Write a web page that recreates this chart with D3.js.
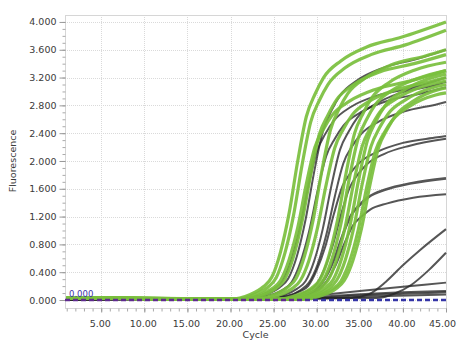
<!DOCTYPE html>
<html>
<head>
<meta charset="utf-8">
<script src="https://cdn.jsdelivr.net/npm/d3@7"></script>
<style>
body { margin:0; background:#fff; }
svg { display:block; }
</style>
</head>
<body>
<div id="chart"></div>
<script>
// tick labels
var cycleTicks = [5, 10, 15, 20, 25, 30, 35, 40, 45];
var fluorTicks = [0, 0.4, 0.8, 1.2, 1.6, 2.0, 2.4, 2.8, 3.2, 3.6, 4.0];
var threshold = 0.0;

// amplification curves, [cycle, fluorescence]
var greenCurves = [
  [[1,0.03],[19.8,0.01],[22.3,0.08],[23.8,0.19],[24.8,0.33],[25.8,0.69],[26.8,1.25],[27.8,2.0],[28.8,2.64],[29.8,2.96],[30.8,3.2],[32.8,3.44],[35.8,3.64],[39.8,3.78],[45,4.0]],
  [[1,0.03],[20.3,0.01],[22.8,0.08],[24.3,0.18],[25.3,0.32],[26.3,0.67],[27.3,1.21],[28.3,1.94],[29.3,2.56],[30.3,2.87],[31.3,3.1],[33.3,3.34],[36.3,3.53],[40.3,3.67],[45,3.88]],
  [[1,0.03],[20.8,0.01],[23.3,0.07],[24.8,0.16],[25.8,0.28],[26.8,0.58],[27.8,1.04],[28.8,1.67],[29.8,2.2],[30.8,2.46],[31.8,2.66],[33.8,2.86],[36.8,3.03],[40.8,3.15],[45,3.30]],
  [[1,0.03],[21.3,0.01],[23.8,0.07],[25.3,0.17],[26.3,0.3],[27.3,0.62],[28.3,1.13],[29.3,1.8],[30.3,2.38],[31.3,2.66],[32.3,2.88],[34.3,3.1],[37.3,3.28],[41.3,3.4],[45,3.53]],
  [[1,0.03],[22.6,0.01],[25.1,0.08],[26.6,0.18],[27.6,0.31],[28.6,0.64],[29.6,1.16],[30.6,1.86],[31.6,2.45],[32.6,2.75],[33.6,2.97],[35.6,3.19],[38.6,3.38],[42.6,3.51],[45,3.60]],
  [[1,0.03],[23.1,0.01],[25.6,0.07],[27.1,0.16],[28.1,0.28],[29.1,0.57],[30.1,1.04],[31.1,1.66],[32.1,2.19],[33.1,2.46],[34.1,2.66],[36.1,2.86],[39.1,3.02],[43.1,3.14],[45,3.20]],
  [[1,0.03],[25.4,0.01],[27.9,0.08],[29.4,0.17],[30.4,0.3],[31.4,0.63],[32.4,1.14],[33.4,1.82],[34.4,2.4],[35.4,2.69],[36.4,2.91],[38.4,3.13],[41.4,3.31],[45,3.42]],
  [[1,0.03],[25.8,0.01],[28.3,0.07],[29.8,0.17],[30.8,0.29],[31.8,0.6],[32.8,1.09],[33.8,1.76],[34.8,2.32],[35.8,2.6],[36.8,2.81],[38.8,3.02],[41.8,3.19],[45,3.30]],
  [[1,0.03],[26.3,0.01],[28.8,0.07],[30.3,0.16],[31.3,0.28],[32.3,0.58],[33.3,1.05],[34.3,1.69],[35.3,2.22],[36.3,2.49],[37.3,2.7],[39.3,2.9],[42.3,3.07],[45,3.15]],
  [[1,0.03],[26.9,0.01],[29.4,0.07],[30.9,0.17],[31.9,0.29],[32.9,0.6],[33.9,1.09],[34.9,1.75],[35.9,2.3],[36.9,2.58],[37.9,2.79],[39.9,3.0],[42.9,3.18],[45,3.25]],
  [[1,0.03],[27.3,0.01],[29.8,0.07],[31.3,0.16],[32.3,0.28],[33.3,0.57],[34.3,1.04],[35.3,1.68],[36.3,2.21],[37.3,2.48],[38.3,2.68],[40.3,2.88],[43.3,3.05],[45,3.10]],
  [[1,0.03],[27.8,0.01],[30.3,0.07],[31.8,0.16],[32.8,0.27],[33.8,0.55],[34.8,1.0],[35.8,1.62],[36.8,2.14],[37.8,2.4],[38.8,2.59],[40.8,2.79],[43.8,2.95],[45,2.98]],
  [[1,0.03],[28.2,0.01],[30.7,0.07],[32.2,0.16],[33.2,0.28],[34.2,0.57],[35.2,1.03],[36.2,1.67],[37.2,2.2],[38.2,2.46],[39.2,2.66],[41.2,2.86],[44.2,3.03],[45,3.05]]
];

var darkCurves = [
  [[1,0.01],[21,0.02],[23.5,0.07],[25,0.16],[26,0.27],[27,0.56],[28,1.01],[29,1.62],[30,2.13],[31,2.39],[32,2.58],[34,2.78],[37,2.94],[41,3.05],[45,3.20]],
  [[1,0.01],[21.7,0.02],[24.2,0.08],[25.7,0.18],[26.7,0.31],[27.7,0.63],[28.7,1.15],[29.7,1.84],[30.7,2.42],[31.7,2.72],[32.7,2.94],[34.7,3.16],[37.7,3.34],[41.7,3.47],[45,3.60]],
  [[1,0.01],[22.1,0.02],[24.6,0.07],[26.1,0.15],[27.1,0.26],[28.1,0.54],[29.1,0.98],[30.1,1.57],[31.1,2.07],[32.1,2.32],[33.1,2.51],[35.1,2.7],[38.1,2.86],[42.1,2.97],[45,3.06]],
  [[1,0.01],[23.7,0.02],[26.2,0.07],[27.7,0.16],[28.7,0.27],[29.7,0.56],[30.7,1.02],[31.7,1.64],[32.7,2.16],[33.7,2.42],[34.7,2.62],[36.7,2.81],[39.7,2.98],[43.7,3.09],[45,3.14]],
  [[1,0.01],[24.1,0.02],[26.6,0.06],[28.1,0.14],[29.1,0.25],[30.1,0.51],[31.1,0.93],[32.1,1.49],[33.1,1.97],[34.1,2.21],[35.1,2.38],[37.1,2.56],[40.1,2.71],[44.1,2.82],[45,2.85]],
  [[1,0.01],[24,0.02],[26.5,0.05],[28,0.12],[29,0.2],[30,0.43],[31,0.77],[32,1.24],[33,1.64],[34,1.84],[35,1.98],[37,2.13],[40,2.26],[44,2.34],[45,2.36]],
  [[1,0.01],[24.8,0.02],[27.3,0.05],[28.8,0.12],[29.8,0.2],[30.8,0.42],[31.8,0.76],[32.8,1.22],[33.8,1.61],[34.8,1.81],[35.8,1.95],[37.8,2.1],[40.8,2.22],[45,2.32]],
  [[1,0.01],[25,0.02],[27.5,0.04],[29,0.09],[30,0.16],[31,0.32],[32,0.58],[33,0.93],[34,1.22],[35,1.37],[36,1.48],[38,1.59],[41,1.68],[45,1.75]],
  [[1,0.01],[25.2,0.02],[27.7,0.04],[29.2,0.08],[30.2,0.14],[31.2,0.28],[32.2,0.5],[33.2,0.81],[34.2,1.07],[35.2,1.2],[36.2,1.3],[38.2,1.39],[41.2,1.47],[45,1.52]],
  [[1,0.01],[34,0.03],[36,0.08],[38,0.26],[40,0.5],[42,0.72],[45,1.02]],
  [[1,0.01],[37,0.03],[39,0.09],[41,0.22],[43,0.43],[45,0.68]],
  [[1,0.01],[27,0.03],[31,0.08],[35,0.13],[40,0.19],[45,0.25]],
  [[1,0.01],[28,0.02],[32,0.06],[38,0.1],[45,0.13]],
  [[1,0.01],[29,0.02],[34,0.06],[40,0.09],[45,0.11]],
  [[1,0.01],[30,0.02],[36,0.05],[45,0.08]]
];

var W = 458, H = 342;
var margin = {top:15, left:65, right:12, bottom:34};
var width = W - margin.left - margin.right,
    height = H - margin.top - margin.bottom;
var font = "'DejaVu Sans', Verdana, sans-serif";

var svg = d3.select("#chart")
  .append("svg")
  .attr("width", W)
  .attr("height", H)
  .style("font-family", font);

var canvas = svg.append("g")
  .attr("transform", "translate(" + margin.left + "," + margin.top + ")");

var x = d3.scaleLinear()
  .domain([0.8, 45])
  .range([0, width]);

var y = d3.scaleLinear()
  .domain([-0.115, 4.1])
  .range([height, 0]);

// grid
canvas.append("g")
  .selectAll("line")
  .data(fluorTicks)
  .enter().append("line")
    .attr("x1", 0)
    .attr("x2", width)
    .attr("y1", function(d) { return Math.round(y(d)) + 0.5; })
    .attr("y2", function(d) { return Math.round(y(d)) + 0.5; })
    .attr("stroke", "#dadada")
    .attr("stroke-dasharray", "1,1");

canvas.append("g")
  .selectAll("line")
  .data(cycleTicks.slice(0, -1))
  .enter().append("line")
    .attr("x1", function(d) { return Math.round(x(d)) + 0.5; })
    .attr("x2", function(d) { return Math.round(x(d)) + 0.5; })
    .attr("y1", 0)
    .attr("y2", height)
    .attr("stroke", "#dadada")
    .attr("stroke-dasharray", "1,1");

// frame
canvas.append("rect")
  .attr("x", 0.5)
  .attr("y", 0.5)
  .attr("width", width)
  .attr("height", height)
  .attr("fill", "none")
  .attr("stroke", "#d6d6d6");

// minor ticks
canvas.append("g")
  .attr("transform", "translate(0.5,0)")
  .call(d3.axisLeft(y)
    .tickValues(d3.range(0, 4.05, 0.1))
    .tickSize(3)
    .tickFormat(""))
  .call(function(g) { g.select(".domain").remove(); })
  .selectAll("line").attr("stroke", "#aaa");

canvas.append("g")
  .attr("transform", "translate(0," + (height + 0.5) + ")")
  .call(d3.axisBottom(x)
    .tickValues(d3.range(1, 46, 1))
    .tickSize(3)
    .tickFormat(""))
  .call(function(g) { g.select(".domain").remove(); })
  .selectAll("line").attr("stroke", "#aaa");

// major axes
var yAxis = canvas.append("g")
  .attr("transform", "translate(0.5,0)")
  .call(d3.axisLeft(y)
    .tickValues(fluorTicks)
    .tickSize(6)
    .tickPadding(3)
    .tickFormat(d3.format(".3f")));
yAxis.select(".domain").remove();
yAxis.selectAll("line").attr("stroke", "#999");
yAxis.selectAll("text")
  .attr("fill", "#3a3a3a")
  .style("font-size", "9.5px")
  .style("font-family", font);

var xAxis = canvas.append("g")
  .attr("transform", "translate(0," + (height + 0.5) + ")")
  .call(d3.axisBottom(x)
    .tickValues(cycleTicks)
    .tickSize(4)
    .tickPadding(8)
    .tickFormat(d3.format(".2f")));
xAxis.select(".domain").remove();
xAxis.selectAll("line").attr("stroke", "#999");
xAxis.selectAll("text")
  .attr("fill", "#3a3a3a")
  .attr("dx", function(d, i) { return i == cycleTicks.length - 1 ? -4 : -1.5; })
  .style("font-size", "9.5px")
  .style("font-family", font);

// axis titles
svg.append("text")
  .attr("x", margin.left + width / 2)
  .attr("y", 338)
  .attr("text-anchor", "middle")
  .attr("fill", "#3a3a3a")
  .style("font-size", "9.5px")
  .text("Cycle");

svg.append("text")
  .attr("transform", "translate(16," + (margin.top + y(2.0)) + ") rotate(-90)")
  .attr("text-anchor", "middle")
  .attr("fill", "#3a3a3a")
  .style("font-size", "9.5px")
  .text("Fluorescence");

// curves
canvas.append("clipPath")
  .attr("id", "plotclip")
  .append("rect")
  .attr("x", 0)
  .attr("y", 0)
  .attr("width", width + 1)
  .attr("height", height);

var line = d3.line()
  .x(function(d) { return x(d[0]); })
  .y(function(d) { return y(d[1]); })
  .curve(d3.curveMonotoneX);

var plot = canvas.append("g").attr("clip-path", "url(#plotclip)");

plot.selectAll(".dark")
  .data(darkCurves)
  .enter().append("path")
  .attr("class", "dark")
  .attr("d", line)
  .attr("fill", "none")
  .attr("stroke", "#262626")
  .attr("stroke-opacity", 0.78)
  .attr("stroke-width", function(d, i) { return i == 7 ? 2.6 : 2; });

plot.selectAll(".green")
  .data(greenCurves)
  .enter().append("path")
  .attr("class", "green")
  .attr("d", line)
  .attr("fill", "none")
  .attr("stroke", "#79bf3d")
  .attr("stroke-opacity", 0.92)
  .attr("stroke-width", 3.2);

// threshold line
var grad = svg.append("defs").append("linearGradient")
  .attr("id", "thgrad")
  .attr("gradientUnits", "userSpaceOnUse")
  .attr("x1", 0).attr("x2", width)
  .attr("y1", 0).attr("y2", 0);
grad.append("stop").attr("offset", "0.6").attr("stop-color", "#5f2a8e");
grad.append("stop").attr("offset", "0.68").attr("stop-color", "#3434a6");

plot.append("line")
  .attr("x1", 0)
  .attr("x2", width)
  .attr("y1", y(threshold))
  .attr("y2", y(threshold))
  .attr("stroke", "url(#thgrad)")
  .attr("stroke-width", 2.4)
  .attr("stroke-dasharray", "5,3");

canvas.append("text")
  .attr("x", 4)
  .attr("y", y(threshold) - 3)
  .attr("fill", "#3a32a6")
  .style("font-size", "8.5px")
  .text(d3.format(".3f")(threshold));
</script>
</body>
</html>
